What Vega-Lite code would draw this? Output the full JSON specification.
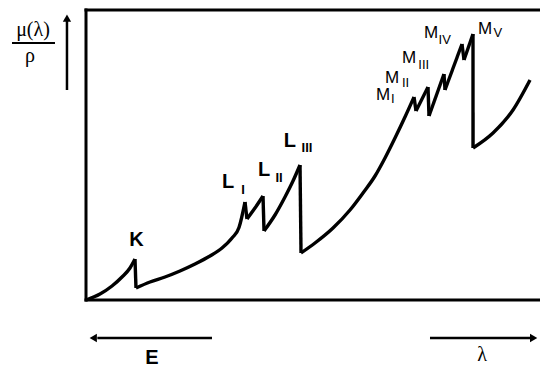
{
  "$schema": "https://vega.github.io/schema/vega-lite/v6.json",
  "width": 454,
  "height": 290,
  "autosize": {"type": "none"},
  "padding": {"left": 86, "top": 10, "right": 0, "bottom": 67},
  "background": "white",
  "config": {"view": {"stroke": null}},
  "datasets": {
    "curve": [
      {"seg": "A", "x": 0, "y": 0},
      {"seg": "A", "x": 3.08, "y": 2.07},
      {"seg": "A", "x": 5.73, "y": 4.83},
      {"seg": "A", "x": 7.93, "y": 7.93},
      {"seg": "A", "x": 9.69, "y": 11.03},
      {"seg": "A", "x": 10.79, "y": 14.14},
      {"seg": "dK", "x": 10.79, "y": 14.14},
      {"seg": "dK", "x": 11.01, "y": 4.14},
      {"seg": "B", "x": 11.01, "y": 4.14},
      {"seg": "B", "x": 14.10, "y": 6.21},
      {"seg": "B", "x": 17.40, "y": 7.93},
      {"seg": "B", "x": 20.70, "y": 10.0},
      {"seg": "B", "x": 24.01, "y": 12.41},
      {"seg": "B", "x": 27.31, "y": 15.17},
      {"seg": "B", "x": 29.96, "y": 17.93},
      {"seg": "B", "x": 32.16, "y": 21.38},
      {"seg": "B", "x": 33.70, "y": 25.0},
      {"seg": "B", "x": 35.02, "y": 33.79},
      {"seg": "dL1", "x": 35.02, "y": 33.79},
      {"seg": "dL1", "x": 35.46, "y": 27.93},
      {"seg": "C", "x": 35.46, "y": 27.93},
      {"seg": "C", "x": 37.22, "y": 31.72},
      {"seg": "C", "x": 38.99, "y": 35.86},
      {"seg": "dL2", "x": 38.99, "y": 35.86},
      {"seg": "dL2", "x": 39.21, "y": 23.79},
      {"seg": "D", "x": 39.21, "y": 23.79},
      {"seg": "D", "x": 41.63, "y": 29.31},
      {"seg": "D", "x": 43.83, "y": 35.52},
      {"seg": "D", "x": 45.59, "y": 41.03},
      {"seg": "D", "x": 47.14, "y": 46.55},
      {"seg": "dL3", "x": 47.14, "y": 46.55},
      {"seg": "dL3", "x": 47.36, "y": 16.21},
      {"seg": "E", "x": 47.36, "y": 16.21},
      {"seg": "E", "x": 50.44, "y": 19.66},
      {"seg": "E", "x": 54.41, "y": 24.83},
      {"seg": "E", "x": 58.15, "y": 31.03},
      {"seg": "E", "x": 61.01, "y": 36.90},
      {"seg": "E", "x": 63.66, "y": 42.76},
      {"seg": "E", "x": 65.86, "y": 48.97},
      {"seg": "E", "x": 68.06, "y": 55.86},
      {"seg": "E", "x": 70.26, "y": 63.10},
      {"seg": "E", "x": 72.25, "y": 70.0},
      {"seg": "dM1", "x": 72.25, "y": 70.0},
      {"seg": "dM1", "x": 72.69, "y": 65.17},
      {"seg": "F", "x": 72.69, "y": 65.17},
      {"seg": "F", "x": 75.33, "y": 73.45},
      {"seg": "dM2", "x": 75.33, "y": 73.45},
      {"seg": "dM2", "x": 75.55, "y": 63.45},
      {"seg": "G", "x": 75.55, "y": 63.45},
      {"seg": "G", "x": 78.85, "y": 77.93},
      {"seg": "dM3", "x": 78.85, "y": 77.93},
      {"seg": "dM3", "x": 79.07, "y": 72.41},
      {"seg": "H", "x": 79.07, "y": 72.41},
      {"seg": "H", "x": 82.82, "y": 88.28},
      {"seg": "dM4", "x": 82.82, "y": 88.28},
      {"seg": "dM4", "x": 83.26, "y": 82.76},
      {"seg": "I", "x": 83.26, "y": 82.76},
      {"seg": "I", "x": 85.24, "y": 91.72},
      {"seg": "dM5", "x": 85.24, "y": 91.72},
      {"seg": "dM5", "x": 85.25, "y": 52.41},
      {"seg": "J", "x": 85.25, "y": 52.41},
      {"seg": "J", "x": 89.65, "y": 57.59},
      {"seg": "J", "x": 94.05, "y": 65.52},
      {"seg": "J", "x": 97.80, "y": 75.86}
    ],
    "frame": [
      {"x": 0, "y": 0, "x2": 100, "y2": 0},
      {"x": 0, "y": 100, "x2": 100, "y2": 100},
      {"x": 0, "y": 0, "x2": 0, "y2": 100}
    ],
    "arrows": [
      {"x": -4.19, "y": 72.41, "x2": -4.19, "y2": 97},
      {"x": 27.75, "y": -13.1, "x2": 2.5, "y2": -13.1},
      {"x": 75.77, "y": -13.1, "x2": 98, "y2": -13.1}
    ],
    "heads": [
      {"x": -4.19, "y": 97.2, "dir": "up"},
      {"x": 1.6, "y": -13.1, "dir": "left"},
      {"x": 98.6, "y": -13.1, "dir": "right"}
    ],
    "fracline": [
      {"x": -16.3, "y": 88.62, "x2": -6.83, "y2": 88.62}
    ],
    "labels": [
      {"role": "bold", "text": "K", "x": 11.12, "y": 20.69},
      {"role": "bold", "text": "L", "x": 31.28, "y": 40.69},
      {"role": "boldsub", "text": "I", "x": 34.58, "y": 37.93},
      {"role": "bold", "text": "L", "x": 39.21, "y": 44.83},
      {"role": "boldsub", "text": "II", "x": 42.51, "y": 42.07},
      {"role": "bold", "text": "L", "x": 44.93, "y": 54.83},
      {"role": "boldsub", "text": "III", "x": 48.68, "y": 52.41},
      {"role": "m", "text": "M", "x": 65.42, "y": 70.69},
      {"role": "msub", "text": "I", "x": 67.6, "y": 69.3},
      {"role": "m", "text": "M", "x": 67.4, "y": 76.55},
      {"role": "msub", "text": "II", "x": 70.4, "y": 75.0},
      {"role": "m", "text": "M", "x": 71.15, "y": 83.45},
      {"role": "msub", "text": "III", "x": 74.4, "y": 81.2},
      {"role": "m", "text": "M", "x": 75.99, "y": 92.07},
      {"role": "msub", "text": "IV", "x": 79.0, "y": 89.5},
      {"role": "m", "text": "M", "x": 87.89, "y": 93.3},
      {"role": "msub", "text": "V", "x": 90.7, "y": 92.2},
      {"role": "bold", "text": "E", "x": 14.54, "y": -20.0},
      {"role": "serif", "text": "λ", "x": 87.22, "y": -19.0},
      {"role": "serif", "text": "μ(λ)", "x": -11.67, "y": 93.1},
      {"role": "serif", "text": "ρ", "x": -12.33, "y": 84.14}
    ]
  },
  "encoding": {
    "x": {"field": "x", "type": "quantitative", "scale": {"domain": [0, 100], "nice": false, "zero": false}, "axis": null},
    "y": {"field": "y", "type": "quantitative", "scale": {"domain": [0, 100], "nice": false, "zero": false}, "axis": null}
  },
  "layer": [
    {
      "data": {"name": "frame"},
      "mark": {"type": "rule", "color": "black", "strokeWidth": 3, "strokeCap": "square"},
      "encoding": {"x2": {"field": "x2"}, "y2": {"field": "y2"}}
    },
    {
      "data": {"name": "curve"},
      "mark": {"type": "line", "color": "black", "strokeWidth": 3.4, "interpolate": "monotone", "strokeJoin": "miter", "strokeMiterLimit": 10},
      "encoding": {"detail": {"field": "seg"}}
    },
    {
      "data": {"name": "arrows"},
      "mark": {"type": "rule", "color": "black", "strokeWidth": 2.5},
      "encoding": {"x2": {"field": "x2"}, "y2": {"field": "y2"}}
    },
    {
      "data": {"name": "fracline"},
      "mark": {"type": "rule", "color": "black", "strokeWidth": 2},
      "encoding": {"x2": {"field": "x2"}, "y2": {"field": "y2"}}
    },
    {
      "data": {"name": "heads"},
      "mark": {"type": "point", "filled": true, "color": "black", "size": 70, "opacity": 1},
      "encoding": {
        "shape": {"field": "dir", "type": "nominal", "scale": {"domain": ["up", "left", "right"], "range": ["triangle-up", "triangle-left", "triangle-right"]}, "legend": null}
      }
    },
    {
      "data": {"name": "labels"},
      "transform": [{"filter": "datum.role === 'bold'"}],
      "mark": {"type": "text", "font": "Liberation Sans", "fontWeight": "bold", "fontSize": 20, "align": "center", "baseline": "middle", "color": "black"},
      "encoding": {"text": {"field": "text"}}
    },
    {
      "data": {"name": "labels"},
      "transform": [{"filter": "datum.role === 'boldsub'"}],
      "mark": {"type": "text", "font": "Liberation Sans", "fontWeight": "bold", "fontSize": 13, "align": "center", "baseline": "middle", "color": "black"},
      "encoding": {"text": {"field": "text"}}
    },
    {
      "data": {"name": "labels"},
      "transform": [{"filter": "datum.role === 'm'"}],
      "mark": {"type": "text", "font": "Liberation Sans", "fontSize": 17, "align": "center", "baseline": "middle", "color": "black"},
      "encoding": {"text": {"field": "text"}}
    },
    {
      "data": {"name": "labels"},
      "transform": [{"filter": "datum.role === 'msub'"}],
      "mark": {"type": "text", "font": "Liberation Sans", "fontSize": 13, "align": "center", "baseline": "middle", "color": "black"},
      "encoding": {"text": {"field": "text"}}
    },
    {
      "data": {"name": "labels"},
      "transform": [{"filter": "datum.role === 'serif'"}],
      "mark": {"type": "text", "font": "Liberation Serif", "fontSize": 20, "align": "center", "baseline": "middle", "color": "black"},
      "encoding": {"text": {"field": "text"}}
    }
  ]
}
